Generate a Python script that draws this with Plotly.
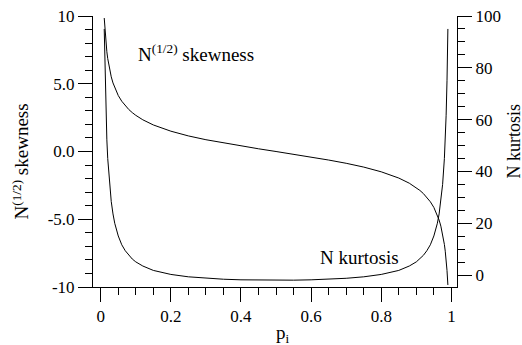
import plotly.graph_objects as go

# probability values p_i
p = [0.01, 0.0125, 0.015, 0.0175, 0.02, 0.025, 0.03, 0.035, 0.04, 0.05, 0.06, 0.07,
     0.08, 0.09, 0.10, 0.12, 0.15, 0.20, 0.25, 0.30, 0.35, 0.40, 0.45, 0.50,
     0.55, 0.60, 0.65, 0.70, 0.75, 0.80, 0.85, 0.88, 0.90, 0.91, 0.92, 0.93,
     0.94, 0.95, 0.96, 0.965, 0.97, 0.975, 0.98, 0.9825, 0.985, 0.9875, 0.99]

# N^(1/2) skewness (left axis)
skewness = [9.85, 8.78, 7.98, 7.36, 6.86, 6.09, 5.51, 5.06, 4.70, 4.13, 3.71, 3.37,
            3.10, 2.87, 2.67, 2.34, 1.96, 1.50, 1.15, 0.87, 0.63, 0.41, 0.20, 0.0,
            -0.20, -0.41, -0.63, -0.87, -1.15, -1.50, -1.96, -2.34, -2.67, -2.87, -3.10, -3.37,
            -3.71, -4.13, -4.70, -5.06, -5.51, -6.09, -6.86, -7.36, -7.98, -8.78, -9.85]

# N kurtosis (right axis)
kurtosis = [95.0, 75.0, 61.7, 52.2, 45.0, 35.0, 28.4, 23.6, 20.0, 15.1, 11.7, 9.4,
            7.6, 6.2, 5.1, 3.5, 1.8, 0.25, -0.67, -1.24, -1.60, -1.83, -1.96, -2.0,
            -1.96, -1.83, -1.60, -1.24, -0.67, 0.25, 1.8, 3.5, 5.1, 6.2, 7.6, 9.4,
            11.7, 15.1, 20.0, 23.6, 28.4, 35.0, 45.0, 52.2, 61.7, 75.0, 95.0]

# left-axis tick labels as printed in the chart, keyed by plotly's default labels
y_default_labels = ["\u221210", "\u22125", "0", "5", "10"]
y_ticktext = ["-10", "-5.0", "0.0", "5.0", "10"]

FONT = "Liberation Serif"
X_RANGE = [-0.022, 1.016]

fig = go.Figure()
fig.add_trace(go.Scatter(x=p, y=skewness, mode="lines",
                         line=dict(color="black", width=1), yaxis="y"))
fig.add_trace(go.Scatter(x=p, y=kurtosis, mode="lines",
                         line=dict(color="black", width=1), yaxis="y2"))


def minor(d):
    return dict(dtick=d, tick0=0, ticks="outside", ticklen=7,
                tickcolor="black", tickwidth=1, showgrid=False)


axis_common = dict(showline=True, linecolor="black", linewidth=1, ticks="outside",
                   ticklen=14, tickwidth=1, tickcolor="black", showgrid=False,
                   zeroline=False, automargin=False, ticklabeloverflow="allow",
                   tickmode="linear", tick0=0,
                   tickfont=dict(family=FONT, size=17, color="black"))

fig.update_layout(
    width=522, height=345,
    margin=dict(l=93, r=65, t=16, b=58),
    paper_bgcolor="white", plot_bgcolor="white",
    showlegend=False,
    font=dict(family=FONT, size=17, color="black"),
    xaxis=dict(range=X_RANGE, dtick=0.2, minor=minor(0.05), **axis_common),
    xaxis2=dict(range=X_RANGE, dtick=0.2, overlaying="x", side="top", anchor="y",
                showticklabels=False, minor=minor(0.05), **axis_common),
    yaxis=dict(range=[-10, 10], dtick=5, minor=minor(1),
               labelalias=dict(zip(y_default_labels, y_ticktext)), **axis_common),
    yaxis2=dict(range=[-4.6, 100], dtick=20, overlaying="y", side="right",
                minor=minor(5), **axis_common),
    annotations=[
        dict(x=0.1, y=7.3, xref="x", yref="y", text="N<sup>(1/2)</sup> skewness",
             showarrow=False, xanchor="left", yanchor="middle",
             font=dict(family=FONT, size=19, color="black")),
        dict(x=0.62, y=-7.8, xref="x", yref="y", text="N kurtosis",
             showarrow=False, xanchor="left", yanchor="middle",
             font=dict(family=FONT, size=19, color="black")),
        # axis titles
        dict(x=0.52, y=0, xref="x", yref="paper", yshift=-47, text="p<sub>i</sub>",
             showarrow=False, xanchor="center", yanchor="middle",
             font=dict(family=FONT, size=19, color="black")),
        dict(x=0, y=0.5, xref="paper", yref="paper", xshift=-73, yshift=-10,
             text="N<sup>(1/2)</sup> skewness", textangle=-90,
             showarrow=False, xanchor="center", yanchor="middle",
             font=dict(family=FONT, size=19, color="black")),
        dict(x=1, y=0.5, xref="paper", yref="paper", xshift=56, yshift=10,
             text="N kurtosis", textangle=-90,
             showarrow=False, xanchor="center", yanchor="middle",
             font=dict(family=FONT, size=18, color="black")),
    ],
)

fig.write_html("out.html", config={"displayModeBar": False},
               post_script="document.body.style.margin='0';document.body.style.overflow='hidden';")
